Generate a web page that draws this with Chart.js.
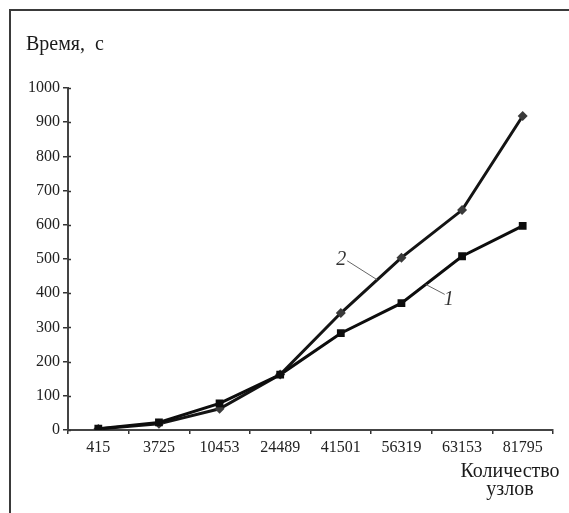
<!DOCTYPE html>
<html>
<head>
<meta charset="utf-8">
<script src="https://cdn.jsdelivr.net/npm/chart.js@4/dist/chart.umd.min.js"></script>
<style>
  html, body { margin: 0; padding: 0; background: #fff; }
  #wrap { position: relative; width: 569px; height: 513px; }
</style>
</head>
<body>
<div id="wrap"><canvas id="chart" width="569" height="513"></canvas></div>
<script>
// Chart data
const nodes = ['415', '3725', '10453', '24489', '41501', '56319', '63153', '81795'];
const series1 = [4, 22, 78, 162, 283, 371, 508, 597];
const series2 = [3, 18, 62, 162, 342, 504, 643, 918];
const yTicks = [0, 100, 200, 300, 400, 500, 600, 700, 800, 900, 1000];

const serif = "'Liberation Serif', 'DejaVu Serif', serif";

// Frame, axis titles and the "1" / "2" callouts
const decorations = {
    id: 'decorations',
    beforeDraw(chart) {
        const ctx = chart.ctx;
        ctx.save();
        ctx.fillStyle = '#fff';
        ctx.fillRect(0, 0, chart.width, chart.height);
        ctx.strokeStyle = '#3a3a3a';
        ctx.lineWidth = 2;
        ctx.beginPath();
        ctx.moveTo(10, chart.height);
        ctx.lineTo(10, 10);
        ctx.lineTo(chart.width, 10);
        ctx.stroke();
        ctx.restore();
    },
    afterDraw(chart) {
        const ctx = chart.ctx;
        const x = chart.scales.x, y = chart.scales.y;
        ctx.save();

        // y tick marks also poke a little inside the axis
        ctx.strokeStyle = '#333';
        ctx.lineWidth = 1.5;
        yTicks.forEach(v => {
            const py = Math.round(y.getPixelForValue(v)) + 0.5;
            ctx.beginPath();
            ctx.moveTo(x.left, py);
            ctx.lineTo(x.left + 3, py);
            ctx.stroke();
        });

        ctx.fillStyle = '#1a1a1a';
        ctx.font = '20px ' + serif;
        ctx.textBaseline = 'alphabetic';
        ctx.textAlign = 'left';
        ctx.fillText('Время,  с', 26, 50);
        ctx.textAlign = 'center';
        ctx.fillText('Количество', 510, 477);
        ctx.fillText('узлов', 510, 495);

        // leader lines pointing at the curves
        const onLine = (data, t) => {
            const i = Math.floor(t), f = t - i;
            return y.getPixelForValue(data[i] + (data[i + 1] - data[i]) * f);
        };
        ctx.strokeStyle = '#666';
        ctx.lineWidth = 1;
        const p2x = x.getPixelForValue(4.6), p2y = onLine(series2, 4.6);
        ctx.beginPath();
        ctx.moveTo(p2x - 30, p2y - 19);
        ctx.lineTo(p2x, p2y);
        ctx.stroke();
        const p1x = x.getPixelForValue(5.4), p1y = onLine(series1, 5.4);
        ctx.beginPath();
        ctx.moveTo(p1x, p1y);
        ctx.lineTo(p1x + 19, p1y + 10);
        ctx.stroke();

        ctx.fillStyle = '#333';
        ctx.font = 'italic 20px ' + serif;
        ctx.textAlign = 'right';
        ctx.fillText('2', p2x - 31, p2y - 15);
        ctx.textAlign = 'left';
        ctx.fillText('1', p1x + 18, p1y + 21);
        ctx.restore();
    }
};

new Chart(document.getElementById('chart').getContext('2d'), {
    type: 'line',
    data: {
        labels: nodes,
        datasets: [
            {
                label: '1',
                data: series1,
                borderColor: '#0d0d0d',
                backgroundColor: '#0d0d0d',
                borderWidth: 3,
                pointStyle: 'rect',
                pointRadius: 5.5,
                pointBorderWidth: 0,
                tension: 0
            },
            {
                label: '2',
                data: series2,
                borderColor: '#141414',
                backgroundColor: '#3a3a3a',
                borderWidth: 3,
                pointStyle: 'rectRot',
                pointRadius: 5,
                pointBorderWidth: 0,
                tension: 0
            }
        ]
    },
    options: {
        responsive: false,
        animation: false,
        layout: { padding: { top: 88, right: 16, left: 0, bottom: 0 } },
        plugins: {
            legend: { display: false },
            tooltip: { enabled: false }
        },
        scales: {
            x: {
                offset: true,
                afterFit: s => { s.height = 83; },
                grid: {
                    offset: true,
                    drawOnChartArea: false,
                    tickLength: 4,
                    color: '#333',
                    lineWidth: 1.5
                },
                border: { color: '#444', width: 2 },
                ticks: {
                    color: '#222',
                    padding: 4,
                    maxRotation: 0,
                    autoSkip: false,
                    font: { family: serif, size: 16 }
                }
            },
            y: {
                min: 0,
                max: 1000,
                afterFit: s => { s.width = 68; },
                afterBuildTicks: s => { s.ticks = yTicks.map(v => ({ value: v })); },
                grid: {
                    drawOnChartArea: false,
                    tickLength: 5,
                    color: '#333',
                    lineWidth: 1.5
                },
                border: { color: '#444', width: 2 },
                ticks: {
                    color: '#222',
                    padding: 3,
                    callback: v => String(v),
                    font: { family: serif, size: 16 }
                }
            }
        }
    },
    plugins: [decorations]
});
</script>
</body>
</html>
